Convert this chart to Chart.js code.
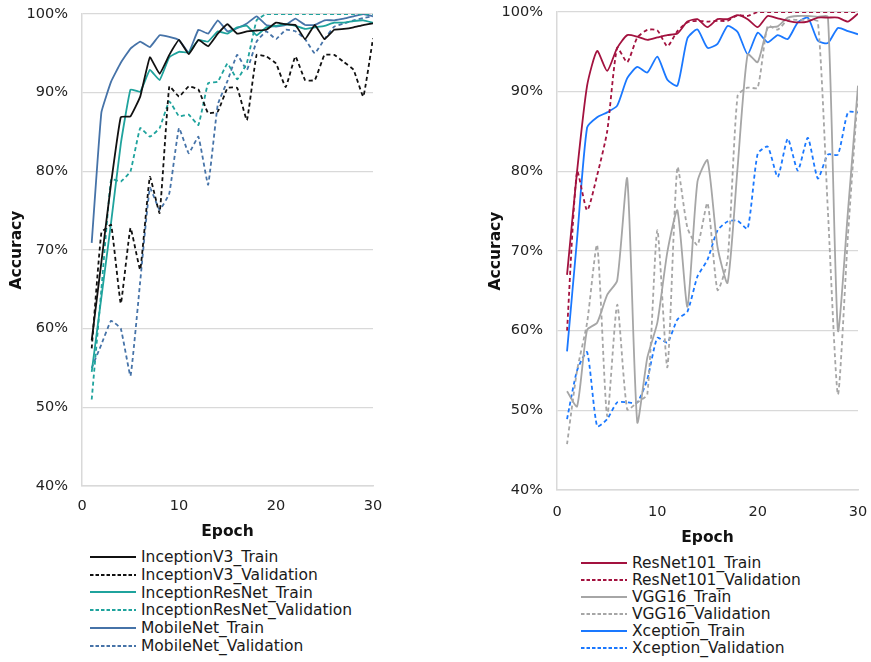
<!DOCTYPE html>
<html>
<head>
<meta charset="utf-8">
<script src="https://cdn.jsdelivr.net/npm/chart.js@4.4.0/dist/chart.umd.min.js"></script>
<style>
    body { margin: 0; background: #fff; width: 871px; height: 662px; position: relative; overflow: hidden; font-family: "DejaVu Sans", Verdana, sans-serif; }
    canvas { position: absolute; top: 0; }
    .legend { position: absolute; font-size: 15.5px; color: #1a1a1a; }
    .legend .row { display: flex; align-items: center; white-space: nowrap; }
    .legend svg { margin-right: 5px; }
</style>
</head>
<body>
<canvas id="chartLeft" width="390" height="545" style="left:0"></canvas>
<canvas id="chartRight" width="390" height="552" style="left:480px"></canvas>
<div id="legendLeft" class="legend" style="left:90px; top:548px;"></div>
<div id="legendRight" class="legend" style="left:581px; top:554px;"></div>
<script>
// epochs 1..30
const epochs = [1, 2, 3, 4, 5, 6, 7, 8, 9, 10, 11, 12, 13, 14, 15, 16, 17, 18, 19, 20, 21, 22, 23, 24, 25, 26, 27, 28, 29, 30];
const yTicks = [40, 50, 60, 70, 80, 90, 100];
const xTicks = [0, 10, 20, 30];

// panneau gauche
const inceptionV3Train = [58.5, 68.5, 78.5, 86.9, 87.0, 89.5, 94.5, 92.4, 94.8, 96.7, 94.9, 96.7, 95.9, 97.5, 98.7, 97.5, 97.8, 97.9, 98.0, 98.9, 98.7, 98.6, 96.8, 98.6, 96.8, 98.0, 98.1, 98.3, 98.6, 98.8];
const inceptionV3Val = [57.5, 72.2, 73.2, 63.2, 72.8, 67.5, 79.3, 74.7, 90.8, 89.5, 90.8, 90.4, 87.4, 87.6, 90.6, 90.6, 86.5, 94.8, 94.6, 93.7, 90.7, 94.6, 91.6, 91.6, 94.8, 94.8, 93.9, 92.9, 89.5, 96.9];
const inceptionResNetTrain = [54.5, 64, 73.5, 83.5, 90.4, 90.1, 92.9, 91.6, 94.5, 95.2, 95.1, 96.7, 96.5, 97.8, 97.5, 98.3, 98.5, 97.3, 98.3, 98.5, 98.7, 98.5, 98.1, 98.3, 98.5, 98.9, 98.9, 99.1, 99.2, 98.9];
const inceptionResNetVal = [51, 65, 79, 78.7, 80, 85.5, 84.4, 85.5, 88.9, 87.0, 87.2, 85.9, 91.2, 91.4, 93.7, 91.7, 93.8, 99.2, 100, 100, 100, 100, 100, 100, 100, 100, 100, 100, 100, 100];
const mobileNetTrain = [70.9, 87.5, 91.4, 93.8, 95.6, 96.5, 95.8, 97.3, 97.1, 96.7, 95.1, 98.0, 97.5, 99.2, 97.8, 98.2, 98.8, 99.7, 98.6, 98.4, 98.6, 99.4, 98.6, 98.6, 99.2, 99.2, 99.4, 99.7, 100, 99.7];
const mobileNetVal = [55, 58, 61, 60, 54, 66, 77.9, 75.1, 77.2, 85.5, 82.3, 84.4, 78.3, 88.5, 91.5, 94.8, 92.9, 96.5, 97.8, 96.8, 98.0, 97.8, 96.8, 95.0, 96.8, 98.4, 98.8, 99.2, 99.5, 99.7];

// panneau droit
const resnetTrain = [67, 80, 90.75, 95.1, 92.6, 95.5, 97.1, 96.9, 96.5, 96.8, 97.1, 97.3, 98.8, 99.1, 98.1, 99.1, 99.1, 99.6, 99.1, 98.1, 99.5, 99.2, 98.9, 98.7, 98.8, 99.3, 99.3, 99.3, 98.8, 99.8];
const resnetVal = [60, 80, 75.1, 79.5, 85, 95.5, 93.7, 96.8, 97.75, 97.7, 95.7, 97.6, 98.7, 98.9, 98.8, 98.9, 98.9, 99.6, 99.5, 100, 100, 100, 100, 100, 100, 100, 100, 100, 100, 100];
const vgg16Train = [52.4, 50.5, 60.1, 61, 64.5, 66.3, 79.1, 48.5, 56.6, 61, 69.9, 75.1, 63.0, 78.7, 81.4, 70.5, 66, 80.5, 94.7, 93.7, 98.0, 98.2, 99.3, 99.5, 99.5, 99.4, 99.4, 60, 75, 90.75];
const vgg16Val = [45.75, 55, 61, 70.75, 49.3, 63.25, 50.1, 51, 52, 72.6, 55.4, 80.5, 72.9, 70.75, 76, 65.1, 68.9, 89.5, 90.5, 90.5, 98.25, 97.8, 99.0, 99.0, 99.0, 98.8, 75, 52, 72, 90];
const xceptionTrain = [57.4, 71.5, 85.5, 86.8, 87.4, 88.25, 91.7, 93.1, 92.4, 94.4, 91.5, 90.75, 96.7, 97.8, 95.5, 96.0, 98.25, 97.5, 94.7, 97.4, 96.2, 97.1, 96.6, 98.7, 99.3, 96.4, 96.1, 98.0, 97.6, 97.2];
const xceptionVal = [48.9, 55, 57.3, 48.0, 48.9, 51.0, 51.0, 51.0, 53.9, 59.1, 58.5, 61.4, 62.4, 66.8, 68.9, 72.6, 73.7, 73.8, 72.8, 82.2, 83.1, 79.3, 84.1, 80.1, 84.2, 79.1, 82.1, 82.1, 87.4, 87.4];

const FONT = '"DejaVu Sans", Verdana, sans-serif';
const GRID = '#d9d9d9';

function toPoints(values) {
    return epochs.map((e, i) => ({ x: e, y: values[i] }));
}

function serie(label, values, color, dashed) {
    return {
        label: label,
        data: toPoints(values),
        borderColor: color,
        backgroundColor: color,
        borderWidth: 1.8,
        borderDash: dashed ? [4, 3] : [],
        pointRadius: 0,
        fill: false,
        dashed: dashed
    };
}

// on neutralise le débord des étiquettes pour placer la zone de tracé au pixel près
function noLabelPadding(scale) {
    scale.paddingTop = 0;
    scale.paddingBottom = 0;
    scale.paddingLeft = 0;
    scale.paddingRight = 0;
}

function buildOptions(cfg) {
    return {
        responsive: false,
        animation: false,
        layout: { padding: { top: cfg.top, right: cfg.right, left: 0, bottom: 0 } },
        plugins: { legend: { display: false }, tooltip: { enabled: false } },
        elements: { line: { tension: cfg.tension } },
        scales: {
            x: {
                type: 'linear',
                min: 0,
                max: 30,
                afterBuildTicks: (scale) => { scale.ticks = xTicks.map(v => ({ value: v })); },
                afterFit: (scale) => { scale.height = cfg.xHeight; noLabelPadding(scale); },
                grid: { display: false, drawTicks: false },
                border: { display: true, color: GRID, width: 1.5 },
                ticks: { color: '#222', font: { family: FONT, size: 14.5 }, padding: cfg.xPad, maxRotation: 0 },
                title: { display: true, text: 'Epoch', color: '#111', font: { family: FONT, size: 15.5, weight: 'bold' }, padding: { top: 0, bottom: cfg.titleBottom } }
            },
            y: {
                min: 40,
                max: 100,
                afterBuildTicks: (scale) => { scale.ticks = yTicks.map(v => ({ value: v })); },
                afterFit: (scale) => { scale.width = cfg.yWidth; noLabelPadding(scale); },
                grid: { color: GRID, lineWidth: 1.3, drawTicks: false },
                border: { display: true, color: GRID, width: 1.5 },
                ticks: { color: '#222', font: { family: FONT, size: 14.5 }, padding: 14, callback: (v) => v + '%' },
                title: { display: true, text: 'Accuracy', color: '#111', font: { family: FONT, size: 15.5, weight: 'bold' }, padding: { top: cfg.titleLeft, bottom: 0 } }
            }
        }
    };
}

function buildLegend(id, datasets, rowHeight) {
    const box = document.getElementById(id);
    box.innerHTML = datasets.map(ds => `
        <div class="row" style="height:${rowHeight}px">
            <svg width="46" height="4"><line x1="0" y1="2" x2="46" y2="2" stroke="${ds.borderColor}" stroke-width="1.8" ${ds.dashed ? 'stroke-dasharray="3.5,2"' : ''}/></svg>
            <span>${ds.label}</span>
        </div>
    `).join('');
}

const leftSets = [
    serie('InceptionV3_Train', inceptionV3Train, '#111111', false),
    serie('InceptionV3_Validation', inceptionV3Val, '#111111', true),
    serie('InceptionResNet_Train', inceptionResNetTrain, '#1fa39d', false),
    serie('InceptionResNet_Validation', inceptionResNetVal, '#1fa39d', true),
    serie('MobileNet_Train', mobileNetTrain, '#4673a8', false),
    serie('MobileNet_Validation', mobileNetVal, '#4673a8', true)
];

const rightSets = [
    serie('ResNet101_Train', resnetTrain, '#a3123f', false),
    serie('ResNet101_Validation', resnetVal, '#a3123f', true),
    serie('VGG16_Train', vgg16Train, '#a6a6a6', false),
    serie('VGG16_Validation', vgg16Val, '#a6a6a6', true),
    serie('Xception_Train', xceptionTrain, '#1a78ff', false),
    serie('Xception_Validation', xceptionVal, '#1a78ff', true)
];

new Chart(document.getElementById('chartLeft'), {
    type: 'line',
    data: { datasets: leftSets },
    options: buildOptions({ top: 14, right: 17, xHeight: 59, yWidth: 82, xPad: 12, titleBottom: 4, titleLeft: 8, tension: 0.1 })
});

new Chart(document.getElementById('chartRight'), {
    type: 'line',
    data: { datasets: rightSets },
    options: buildOptions({ top: 12, right: 12, xHeight: 62, yWidth: 77, xPad: 14, titleBottom: 5, titleLeft: 7, tension: 0.2 })
});

buildLegend('legendLeft', leftSets, 17.8);
buildLegend('legendRight', rightSets, 17);
</script>
</body>
</html>
